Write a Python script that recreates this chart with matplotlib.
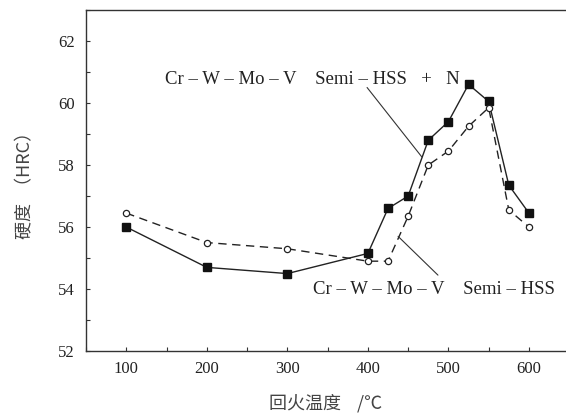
import matplotlib.pyplot as plt
from matplotlib.ticker import MultipleLocator

# Datos
temp = [100, 200, 300, 400, 425, 450, 475, 500, 525, 550, 575, 600]
hrc_n = [56.0, 54.7, 54.5, 55.15, 56.6, 57.0, 58.8, 59.4, 60.6, 60.05, 57.35, 56.45]
hrc_base = [56.45, 55.5, 55.3, 54.9, 54.9, 56.35, 58.0, 58.45, 59.25, 59.85, 56.55, 56.0]

label_n = "Cr – W – Mo – V    Semi – HSS   +   N"
label_base = "Cr – W – Mo – V    Semi – HSS"

serif = ['Liberation Serif', 'DejaVu Serif']
cjk = ['Noto Sans CJK SC', 'DejaVu Sans']

fig = plt.figure(figsize=(5.66, 4.16), dpi=100)
ax = fig.add_axes([0.152, 0.156, 0.848, 0.820])

ax.plot(temp, hrc_n, color='#222222', linewidth=1.0, marker='s', markersize=5.5,
        markerfacecolor='#111111', markeredgecolor='#111111')
ax.plot(temp, hrc_base, color='#222222', linewidth=1.0, linestyle=(0, (6, 4)), marker='o',
        markersize=4.5, markerfacecolor='white', markeredgecolor='#222222', markeredgewidth=0.9)

# Textos de las curvas
ax.text(148, 60.75, label_n, fontsize=13.5, family=serif, ha='left', va='center', color='#222222')
ax.text(332, 54.0, label_base, fontsize=13.5, family=serif, ha='left', va='center', color='#222222')

# Líneas guía
ax.annotate('', xy=(467, 58.26), xytext=(399, 60.5),
            arrowprops=dict(arrowstyle='-', color='#333333', lw=0.8, shrinkA=0, shrinkB=0))
ax.annotate('', xy=(437.5, 55.7), xytext=(487, 54.45),
            arrowprops=dict(arrowstyle='-', color='#333333', lw=0.8, shrinkA=0, shrinkB=0))

ax.set_xlim(50, 646)
ax.set_ylim(52, 63)
ax.xaxis.set_minor_locator(MultipleLocator(50))
ax.yaxis.set_minor_locator(MultipleLocator(1))
ax.set_xticks(range(100, 601, 100))
ax.set_yticks(range(52, 63, 2))
ax.tick_params(which='both', direction='in', length=3, width=0.8, colors='#333333',
               labelsize=12, labelcolor='#222222')
ax.tick_params(axis='x', pad=7)
ax.tick_params(axis='y', pad=8)
for lbl in ax.get_xticklabels() + ax.get_yticklabels():
    lbl.set_family(serif)

ax.spines['right'].set_visible(False)
for s in ['left', 'top', 'bottom']:
    ax.spines[s].set_color('#333333')
    ax.spines[s].set_linewidth(1.0)

ax.set_xlabel("回火温度    /℃", fontsize=13, family=cjk, color='#444444', labelpad=12)
ax.set_ylabel("硬度  （HRC）", fontsize=13, family=cjk, color='#444444', labelpad=17)

fig.savefig('out.png', dpi=100, facecolor='white')
